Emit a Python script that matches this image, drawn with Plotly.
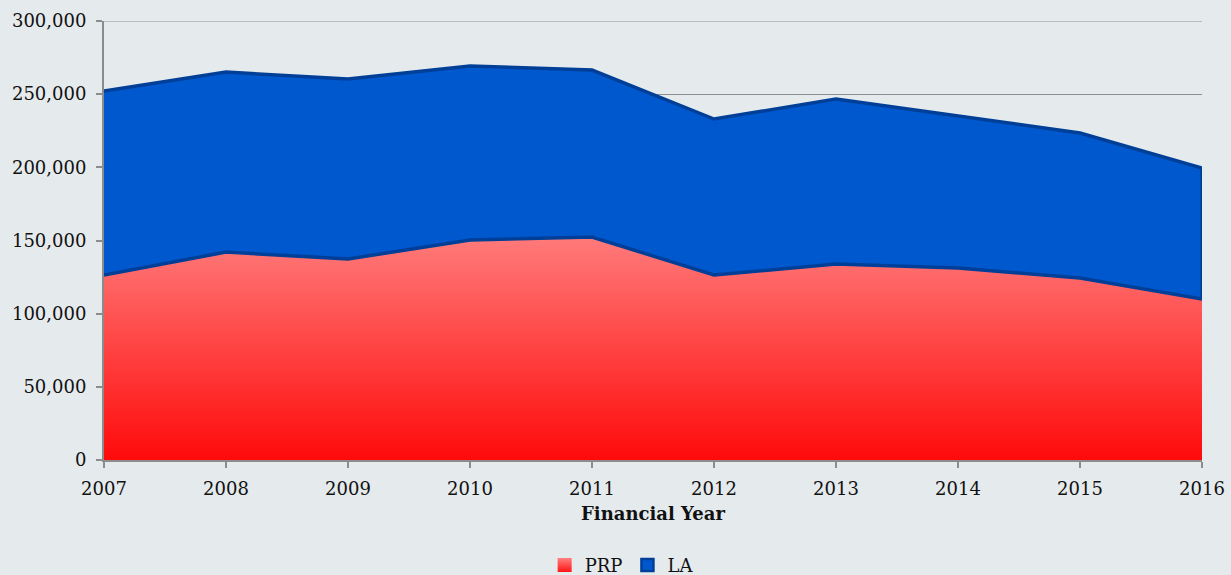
import plotly.graph_objects as go

years = [2007, 2008, 2009, 2010, 2011, 2012, 2013, 2014, 2015, 2016]
prp = [126400, 142100, 137400, 150300, 152400, 126400, 133900, 131200, 124400, 110000]
la = [125800, 123000, 123000, 119000, 114100, 106600, 112800, 103900, 99100, 89500]

y_ticks = [0, 50000, 100000, 150000, 200000, 250000, 300000]

bg = "#e5eaed"
font_family = "DejaVu Serif"
axis_grey = "#8c8c8c"

total = [p + l for p, l in zip(prp, la)]

fig = go.Figure()

# PRP: bottom band with a vertical red gradient
fig.add_trace(go.Scatter(
    x=years, y=prp, name="PRP", mode="lines",
    line=dict(width=0, color="#ff4040"),
    fill="tozeroy",
    fillgradient=dict(
        type="vertical",
        colorscale=[[0, "#ff0b0b"], [1, "#ff7a7a"]],
        start=0, stop=max(prp),
    ),
    showlegend=False,
))

# LA: band stacked on PRP, outlined in dark blue
fig.add_trace(go.Scatter(
    x=years + years[::-1],
    y=total + prp[::-1],
    name="LA", mode="lines",
    fill="toself", fillcolor="#0058cf",
    line=dict(color="#003f98", width=3.5),
    showlegend=False,
))

# Square legend swatches
fig.add_trace(go.Scatter(
    x=[None], y=[None], name="PRP", mode="markers",
    marker=dict(symbol="square", size=14, color="#ff8080",
                gradient=dict(type="vertical", color="#ff1515"),
                line=dict(width=0)),
))
fig.add_trace(go.Scatter(
    x=[None], y=[None], name="LA", mode="markers",
    marker=dict(symbol="square", size=12, color="#0058cf",
                line=dict(width=2.5, color="#003f98")),
))

# Top gridline at the axis maximum
fig.add_shape(type="line", xref="paper", x0=0, x1=1,
              yref="y", y0=y_ticks[-1], y1=y_ticks[-1],
              line=dict(color="#8f8f8f", width=1), layer="below")

fig.update_layout(
    width=1231, height=575,
    paper_bgcolor=bg, plot_bgcolor=bg,
    margin=dict(l=104, r=29, t=21, b=115, autoexpand=False),
    font=dict(family=font_family, size=18, color="#111111"),
    showlegend=True,
    legend=dict(
        orientation="h", xref="container", yref="container",
        x=0.505, xanchor="center", y=0.017, yanchor="middle",
        font=dict(size=18), itemwidth=30, tracegroupgap=0,
        bgcolor="rgba(0,0,0,0)",
    ),
    xaxis=dict(
        range=[years[0], years[-1]], automargin=False,
        tickmode="array", tickvals=years, ticktext=[str(y) for y in years],
        showline=True, linecolor=axis_grey, linewidth=2,
        ticks="outside", ticklen=6, tickcolor=axis_grey, tickwidth=2,
        ticklabelstandoff=5,
        showgrid=False, zeroline=False,
        title=dict(text="<b>Financial Year</b>", standoff=10,
                   font=dict(size=18)),
        tickfont=dict(size=18),
    ),
    yaxis=dict(
        range=[0, 300000], automargin=False,
        tickmode="array", tickvals=y_ticks,
        ticktext=[f"{v:,}" for v in y_ticks],
        showline=True, linecolor=axis_grey, linewidth=2,
        ticks="outside", ticklen=6, tickcolor=axis_grey, tickwidth=2,
        ticklabelstandoff=6,
        showgrid=True, gridcolor="#8f8f8f", gridwidth=1,
        zeroline=False,
        tickfont=dict(size=18),
    ),
)

fig.write_html("out.html")
